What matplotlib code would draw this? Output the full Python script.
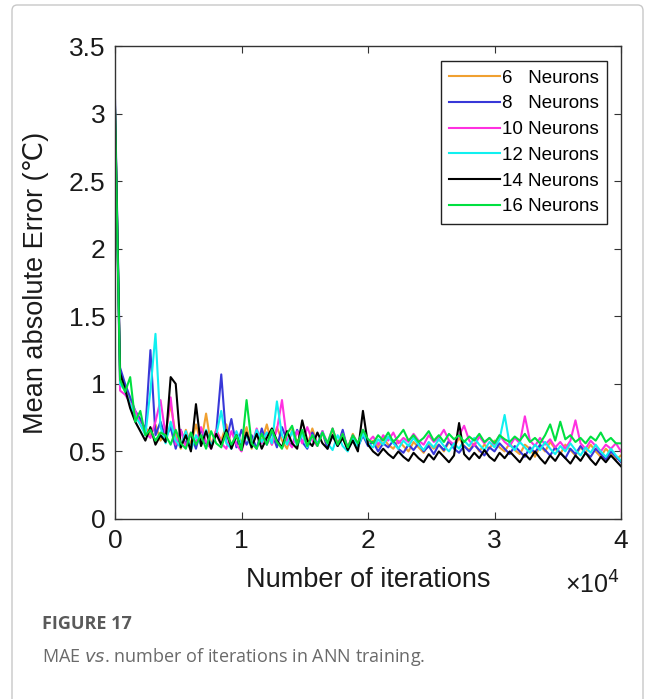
import numpy as np
import matplotlib
matplotlib.use('Agg')
import matplotlib.pyplot as plt
from matplotlib.patches import FancyBboxPatch

# iterations (sampled every 400)
iterations = np.arange(0, 40001, 400)

mae_6 = [3.02, 1.05, 0.97, 0.88, 0.78, 0.72, 0.68, 0.62, 0.70, 0.58,
         0.64, 0.85, 0.62, 0.52, 0.66, 0.55, 0.70, 0.56, 0.78, 0.54,
         0.66, 0.58, 0.70, 0.53, 0.64, 0.56, 0.68, 0.52, 0.65, 0.57,
         0.70, 0.55, 0.68, 0.58, 0.52, 0.66, 0.57, 0.63, 0.54, 0.67,
         0.55, 0.64, 0.52, 0.66, 0.56, 0.61, 0.52, 0.63, 0.55, 0.62,
         0.55, 0.58, 0.53, 0.60, 0.55, 0.52, 0.58, 0.54, 0.50, 0.57,
         0.53, 0.49, 0.56, 0.52, 0.55, 0.50, 0.57, 0.53, 0.60, 0.54,
         0.51, 0.56, 0.50, 0.55, 0.52, 0.58, 0.53, 0.50, 0.56, 0.51,
         0.48, 0.55, 0.52, 0.46, 0.54, 0.50, 0.57, 0.52, 0.48, 0.55,
         0.51, 0.47, 0.53, 0.49, 0.55, 0.50, 0.46, 0.52, 0.48, 0.44,
         0.47]
mae_8 = [3.10, 1.12, 1.00, 0.90, 0.80, 0.74, 0.66, 1.25, 0.62, 0.72,
         0.60, 0.68, 0.52, 0.66, 0.55, 0.63, 0.52, 0.67, 0.56, 0.53,
         0.64, 1.07, 0.58, 0.74, 0.53, 0.66, 0.55, 0.62, 0.52, 0.67,
         0.55, 0.64, 0.53, 0.68, 0.58, 0.54, 0.66, 0.57, 0.52, 0.64,
         0.55, 0.65, 0.52, 0.62, 0.54, 0.66, 0.51, 0.60, 0.53, 0.62,
         0.54, 0.57, 0.50, 0.56, 0.53, 0.58, 0.52, 0.49, 0.55, 0.51,
         0.56, 0.50, 0.54, 0.48, 0.55, 0.51, 0.58, 0.52, 0.49, 0.54,
         0.50, 0.55, 0.51, 0.47, 0.53, 0.50, 0.56, 0.52, 0.48, 0.54,
         0.50, 0.46, 0.53, 0.49, 0.55, 0.51, 0.47, 0.53, 0.49, 0.45,
         0.52, 0.48, 0.54, 0.49, 0.46, 0.52, 0.48, 0.44, 0.50, 0.46,
         0.42]
mae_10 = [3.00, 0.95, 0.92, 0.86, 0.80, 0.70, 0.64, 0.60, 0.72, 0.88,
          0.62, 0.90, 0.55, 0.66, 0.53, 0.64, 0.56, 0.68, 0.57, 0.52,
          0.66, 0.56, 0.52, 0.65, 0.55, 0.50, 0.63, 0.54, 0.67, 0.56,
          0.64, 0.55, 0.66, 0.88, 0.58, 0.53, 0.65, 0.56, 0.68, 0.58,
          0.54, 0.65, 0.56, 0.67, 0.55, 0.63, 0.53, 0.62, 0.56, 0.66,
          0.57, 0.61, 0.55, 0.62, 0.58, 0.64, 0.56, 0.60, 0.57, 0.63,
          0.58, 0.55, 0.62, 0.57, 0.60, 0.66, 0.58, 0.55, 0.62, 0.69,
          0.58, 0.54, 0.61, 0.56, 0.60, 0.55, 0.62, 0.57, 0.54, 0.60,
          0.56, 0.76, 0.58, 0.54, 0.60, 0.55, 0.59, 0.53, 0.57, 0.52,
          0.58, 0.73, 0.56, 0.52, 0.58, 0.54, 0.50, 0.55, 0.52, 0.56,
          0.50]
mae_12 = [3.03, 1.00, 0.95, 0.85, 0.76, 0.70, 0.62, 0.95, 1.37, 0.68,
          0.56, 0.72, 0.58, 0.53, 0.65, 0.51, 0.62, 0.55, 0.66, 0.54,
          0.62, 0.80, 0.56, 0.52, 0.65, 0.55, 0.62, 0.53, 0.66, 0.57,
          0.64, 0.56, 0.87, 0.62, 0.55, 0.65, 0.54, 0.63, 0.53, 0.62,
          0.55, 0.64, 0.56, 0.51, 0.62, 0.54, 0.50, 0.61, 0.53, 0.63,
          0.56, 0.53, 0.59, 0.55, 0.61, 0.56, 0.52, 0.58, 0.54, 0.60,
          0.55, 0.51, 0.57, 0.53, 0.59, 0.54, 0.50, 0.56, 0.52, 0.58,
          0.54, 0.60, 0.55, 0.51, 0.57, 0.53, 0.59, 0.77, 0.55, 0.51,
          0.57, 0.53, 0.49, 0.55, 0.51, 0.57, 0.52, 0.48, 0.54, 0.50,
          0.56, 0.51, 0.47, 0.53, 0.49, 0.55, 0.50, 0.46, 0.52, 0.47,
          0.43]
mae_14 = [3.05, 1.08, 0.96, 0.82, 0.72, 0.65, 0.58, 0.68, 0.55, 0.62,
          0.57, 1.05, 1.00, 0.53, 0.62, 0.50, 0.85, 0.54, 0.65, 0.52,
          0.63, 0.55, 0.66, 0.52, 0.62, 0.51, 0.64, 0.53, 0.63, 0.52,
          0.60, 0.67, 0.58, 0.53, 0.65, 0.56, 0.52, 0.73, 0.58, 0.54,
          0.64, 0.56, 0.52, 0.62, 0.54, 0.60, 0.51, 0.58, 0.50, 0.80,
          0.55, 0.50, 0.47, 0.52, 0.48, 0.45, 0.50, 0.46, 0.43, 0.49,
          0.45, 0.42, 0.48, 0.44, 0.50, 0.46, 0.42, 0.47, 0.71, 0.48,
          0.44, 0.49, 0.45, 0.51, 0.46, 0.43, 0.49, 0.45, 0.50, 0.46,
          0.42, 0.48, 0.44, 0.50, 0.45, 0.41, 0.47, 0.43, 0.49, 0.45,
          0.41, 0.47, 0.43, 0.49, 0.44, 0.40, 0.46, 0.42, 0.47, 0.43,
          0.39]
mae_16 = [3.02, 1.03, 0.94, 1.05, 0.72, 0.80, 0.62, 0.66, 0.58, 0.64,
          0.62, 0.55, 0.66, 0.56, 0.52, 0.64, 0.55, 0.62, 0.52, 0.65,
          0.56, 0.53, 0.64, 0.55, 0.62, 0.51, 0.88, 0.56, 0.52, 0.63,
          0.55, 0.66, 0.57, 0.52, 0.63, 0.69, 0.55, 0.66, 0.54, 0.62,
          0.54, 0.64, 0.56, 0.67, 0.55, 0.63, 0.53, 0.62, 0.56, 0.66,
          0.59, 0.56, 0.62, 0.58, 0.64, 0.57, 0.61, 0.66, 0.58, 0.62,
          0.57, 0.60, 0.65, 0.58, 0.62, 0.57, 0.63, 0.59, 0.62, 0.57,
          0.61, 0.58, 0.63, 0.57, 0.60, 0.56, 0.62, 0.59, 0.57, 0.61,
          0.58, 0.63, 0.57, 0.60, 0.56, 0.62, 0.70, 0.58, 0.72, 0.59,
          0.62, 0.57, 0.60, 0.56, 0.61, 0.58, 0.64, 0.57, 0.60, 0.56,
          0.56]

labels = ['6   Neurons', '8   Neurons', '10 Neurons', '12 Neurons', '14 Neurons', '16 Neurons']
series = [mae_6, mae_8, mae_10, mae_12, mae_14, mae_16]
colors = ['#F0A030', '#3838D8', '#FF30E0', '#10F0F0', '#000000', '#00E040']

plt.rcParams['font.family'] = ['Liberation Sans', 'DejaVu Sans']

fig = plt.figure(figsize=(6.54, 6.99), dpi=100)

# outer card border
card = FancyBboxPatch((12 / 654, -0.05), 631 / 654, 1.05 - 5 / 699,
                      boxstyle='round,pad=0,rounding_size=0.008',
                      transform=fig.transFigure, facecolor='white',
                      edgecolor='#c8c8c8', linewidth=1.0, zorder=-10)
fig.patches.append(card)

ax = fig.add_axes([115 / 654, 1 - 519 / 699, 506 / 654, 473 / 699])

for y, c, lab in zip(series, colors, labels):
    ax.plot(iterations, y, color=c, lw=1.5, label=lab)

ax.set_xlim(0, 40000)
ax.set_ylim(0, 3.5)
ax.set_xticks([0, 10000, 20000, 30000, 40000])
ax.set_xticklabels(['0', '1', '2', '3', '4'])
ax.set_yticks([0, 0.5, 1, 1.5, 2, 2.5, 3, 3.5])
ax.set_yticklabels(['0', '0.5', '1', '1.5', '2', '2.5', '3', '3.5'])
ax.tick_params(direction='in', top=True, right=True, length=5, width=0.8,
               labelsize=19, colors='#333333', labelcolor='#1a1a1a', pad=7)
for sp in ax.spines.values():
    sp.set_color('#333333')
    sp.set_linewidth(1.0)

ax.set_xlabel('Number of iterations', fontsize=19.5, color='#1a1a1a', labelpad=10)
ax.set_ylabel('Mean absolute Error (\u2103)', fontsize=19.5, color='#1a1a1a', labelpad=14)
ax.text(0.998, -0.14, '\u00d710$^{4}$', transform=ax.transAxes, ha='right', va='center',
        fontsize=18, color='#1a1a1a')

leg = ax.legend(loc='upper right', fontsize=13.5, handlelength=2.7, handletextpad=0.1,
                labelspacing=0.46, borderpad=0.45, borderaxespad=0.6,
                bbox_to_anchor=(0.995, 0.992), fancybox=False, framealpha=1)
leg.get_frame().set_edgecolor('#222222')
leg.get_frame().set_linewidth(1.0)

# caption
fig.text(42 / 654, 1 - 624 / 699, 'FIGURE 17', fontsize=13, fontweight='bold',
         color='#5a5a5a', family=['Open Sans', 'DejaVu Sans'], va='center')
fig.text(42 / 654, 1 - 657 / 699, 'MAE $\\it{vs}$. number of iterations in ANN training.',
         fontsize=13, color='#6a6a6a', family=['Open Sans', 'DejaVu Sans'], va='center')

fig.savefig('out.png', dpi=100)
